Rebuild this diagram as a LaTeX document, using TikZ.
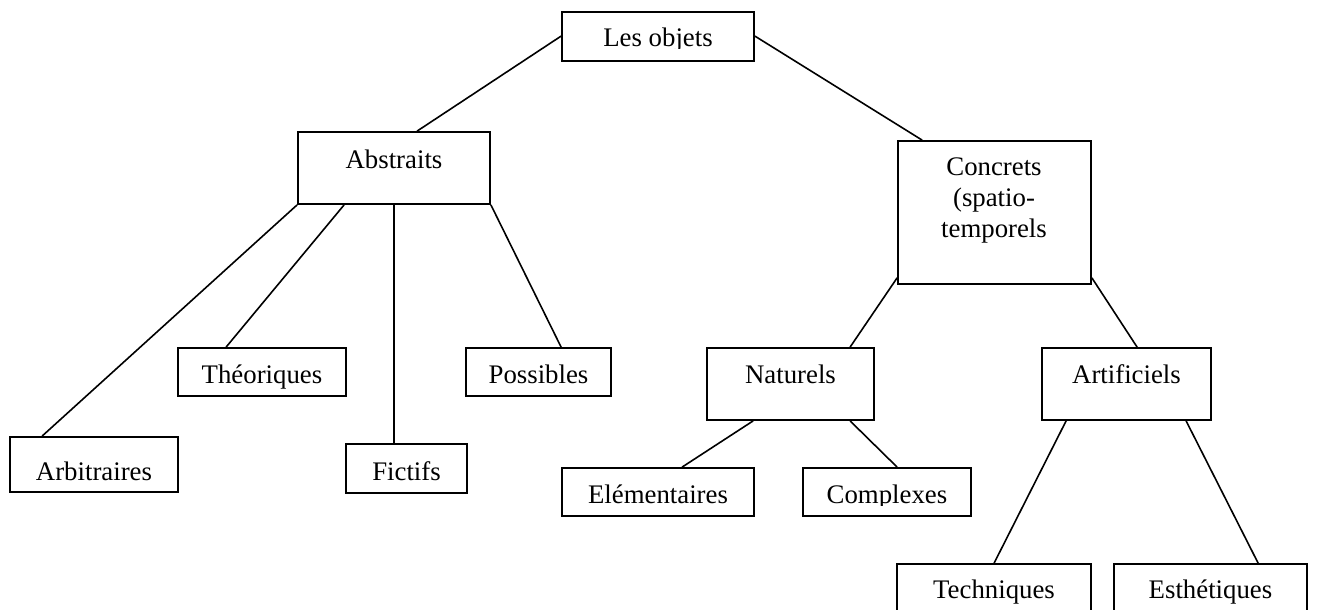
\documentclass[tikz,border=0pt]{standalone}
\usepackage{fontspec}
\setmainfont{Liberation Serif}
\usetikzlibrary{calc}
\tikzset{
  bx/.style={draw, line width=1.8pt, inner sep=0pt, fill=none},
  lbl/.style={anchor=base, inner sep=0pt, font=\fontsize{26.8}{31}\selectfont, align=center},
  conn/.style={line width=1.6pt}
}
\begin{document}
\begin{tikzpicture}[x=1pt,y=-1pt]
\useasboundingbox[fill=white] (0,0) rectangle (1317,610);
% boxes
\node[bx, minimum width=192pt, minimum height=49pt] (lo) at (658,36.5) {};
\node[bx, minimum width=192pt, minimum height=72pt] (ab) at (394,168) {};
\node[bx, minimum width=193pt, minimum height=143pt] (co) at (994.5,212.5) {};
\node[bx, minimum width=168pt, minimum height=48pt] (th) at (262,372) {};
\node[bx, minimum width=145pt, minimum height=48pt] (po) at (538.5,372) {};
\node[bx, minimum width=168pt, minimum height=55pt] (ar) at (94,464.5) {};
\node[bx, minimum width=121pt, minimum height=49pt] (fi) at (406.5,468.5) {};
\node[bx, minimum width=167pt, minimum height=72pt] (na) at (790.5,384) {};
\node[bx, minimum width=192pt, minimum height=48pt] (el) at (658,492) {};
\node[bx, minimum width=168pt, minimum height=48pt] (cx) at (887,492) {};
\node[bx, minimum width=169pt, minimum height=72pt] (af) at (1126.5,384) {};
\node[bx, minimum width=194pt, minimum height=76pt] (te) at (994,602) {};
\node[bx, minimum width=193pt, minimum height=76pt] (es) at (1210.5,602) {};
% labels
\begin{scope}
  \clip (lo.north west) rectangle ($(lo.east)+(0,12.5)$);
  \node[lbl] (tlo) at (658,47) {Les objets};
\end{scope}
\node[lbl] (tab) at (394,168) {Abstraits};
\node[lbl] (tco1) at (994,175) {Concrets};
\node[lbl] (tco2) at (994,206) {(spatio-};
\node[lbl] (tco3) at (994,237) {temporels};
\begin{scope}
  \clip (th.north west) rectangle ($(th.south east)+(0,-3)$);
  \node[lbl] (tth) at (262,383) {Théoriques};
\end{scope}
\node[lbl] (tpo) at (538.5,383) {Possibles};
\node[lbl] (tar) at (94,480) {Arbitraires};
\node[lbl] (tfi) at (406.5,480) {Fictifs};
\node[lbl] (tna) at (790.5,383) {Naturels};
\node[lbl] (tel) at (658,503) {Elémentaires};
\begin{scope}
  \clip (cx.north west) rectangle ($(cx.south east)+(0,-11)$);
  \node[lbl] (tcx) at (887,503) {Complexes};
\end{scope}
\node[lbl] (taf) at (1126.5,383) {Artificiels};
\begin{scope}
  \clip (te.north west) rectangle (1317,604);
  \node[lbl] (tte) at (994,598) {Techniques};
  \node[lbl] (tes) at (1210.5,598) {Esthétiques};
\end{scope}
% connectors
\draw[conn] ($(lo.north west)+(0,25)$) -- ($(ab.north west)+(120,0)$);
\draw[conn] ($(lo.north east)+(0,25)$) -- ($(co.north west)+(25,0)$);
\draw[conn] (ab.south west) -- ($(ar.north west)+(33,0)$);
\draw[conn] ($(ab.south west)+(47,0)$) -- ($(th.north west)+(49,0)$);
\draw[conn] (ab.south) -- (fi.north -| ab.south);
\draw[conn] (ab.south east) -- ($(po.north west)+(96,0)$);
\draw[conn] ($(co.south west)+(0,-7)$) -- ($(na.north west)+(144,0)$);
\draw[conn] ($(co.south east)+(0,-7)$) -- ($(af.north west)+(96,0)$);
\draw[conn] ($(na.south west)+(47,0)$) -- ($(el.north west)+(121,0)$);
\draw[conn] ($(na.south west)+(144,0)$) -- ($(cx.north west)+(95,0)$);
\draw[conn] ($(af.south west)+(25,0)$) -- ($(te.north west)+(98,0)$);
\draw[conn] ($(af.south west)+(145,0)$) -- ($(es.north west)+(145,0)$);
\end{tikzpicture}
\end{document}
